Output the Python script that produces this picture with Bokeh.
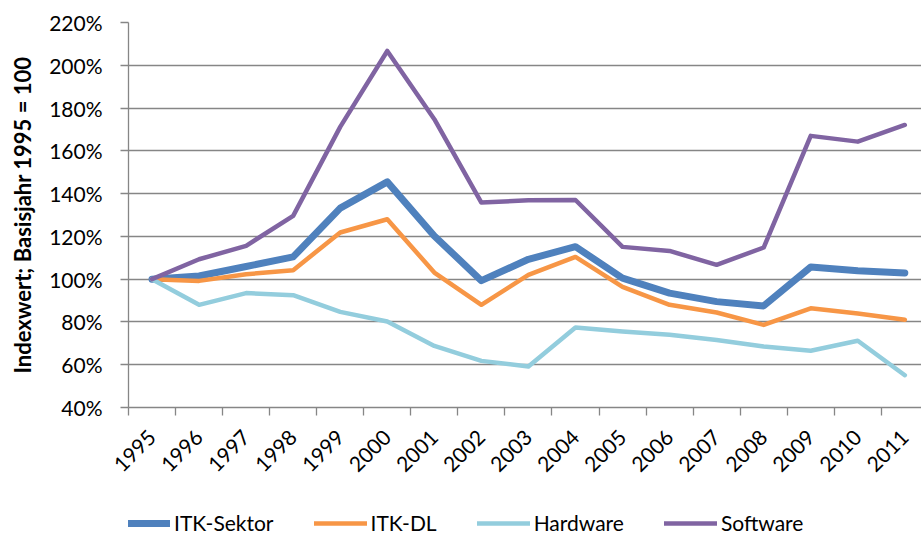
import math
from bokeh.plotting import figure
from bokeh.layouts import column
from bokeh.models import Range1d, FixedTicker, Legend, LegendItem
from bokeh.embed import file_html
from bokeh.resources import INLINE

years = ["1995", "1996", "1997", "1998", "1999", "2000", "2001", "2002", "2003",
         "2004", "2005", "2006", "2007", "2008", "2009", "2010", "2011"]
itk_sektor = [100, 101.5, 105.9, 110.4, 133.2, 145.5, 120.2, 99.3, 109.3,
              115.2, 100.5, 93.5, 89.5, 87.5, 105.7, 103.9, 102.9]
itk_dl = [100, 99.2, 102.3, 104.2, 121.8, 128.0, 103.1, 88.0, 102.0,
          110.4, 96.4, 88.0, 84.4, 78.6, 86.4, 83.9, 81.0]
hardware = [100, 88.0, 93.5, 92.5, 84.7, 80.2, 68.8, 61.8, 59.2,
            77.4, 75.5, 74.0, 71.6, 68.5, 66.5, 71.2, 55.1]
software = [100, 109.3, 115.6, 129.6, 171.2, 206.7, 174.8, 135.8, 136.9,
            137.0, 115.1, 113.2, 106.7, 114.8, 167.0, 164.3, 172.1]
y_ticks = [40, 60, 80, 100, 120, 140, 160, 180, 200, 220]
y_labels = ["40%", "60%", "80%", "100%", "120%", "140%", "160%", "180%", "200%", "220%"]

series = [
    ("ITK-Sektor", itk_sektor, "#4F81BD", 7),
    ("ITK-DL", itk_dl, "#F79646", 4.5),
    ("Hardware", hardware, "#93CDDD", 4.5),
    ("Software", software, "#8064A2", 4.5),
]

FONT = "Lato"
GRID = "#868686"

W = 921
H_MAIN, H_LEG = 485, 50
left, top, bottom = 128, 22, 78
frame_w = W - left
cat_px = 47.05
xs = [i + 0.5 for i in range(len(years))]

p = figure(width=W, height=H_MAIN, output_backend="svg", toolbar_location=None,
           x_range=Range1d(0, frame_w / cat_px), y_range=Range1d(40, 220),
           min_border_left=left, min_border_top=top, min_border_right=0,
           min_border_bottom=bottom)
p.outline_line_color = None
p.background_fill_color = "white"
p.border_fill_color = "white"

# x axis
xa = p.xaxis[0]
xa.ticker = FixedTicker(ticks=xs, minor_ticks=list(range(len(years) + 1)))
xa.major_label_overrides = {x: y for x, y in zip(xs, years)}
xa.major_tick_line_color = None
xa.major_tick_out = 8
xa.major_tick_in = 0
xa.minor_tick_out = 8
xa.minor_tick_in = 0
xa.minor_tick_line_color = GRID
xa.minor_tick_line_width = 1.3
xa.axis_line_color = GRID
xa.axis_line_width = 1.3
xa.major_label_orientation = math.pi / 4
xa.major_label_standoff = 18
xa.major_label_text_font = FONT
xa.major_label_text_font_size = "21px"
xa.major_label_text_color = "black"

# y axis
ya = p.yaxis[0]
ya.ticker = FixedTicker(ticks=y_ticks, minor_ticks=[])
ya.major_label_overrides = {t: l for t, l in zip(y_ticks, y_labels)}
ya.major_tick_out = 8
ya.major_tick_in = 0
ya.major_tick_line_color = GRID
ya.major_tick_line_width = 1.3
ya.axis_line_color = GRID
ya.axis_line_width = 1.3
ya.major_label_standoff = 18
ya.major_label_text_font = FONT
ya.major_label_text_font_size = "21px"
ya.major_label_text_color = "black"
ya.axis_label = "Indexwert; Basisjahr 1995 = 100"
ya.axis_label_text_font = FONT
ya.axis_label_text_font_style = "bold"
ya.axis_label_text_font_size = "22px"
ya.axis_label_text_color = "black"
ya.axis_label_standoff = 10

p.xgrid.visible = False
p.ygrid.ticker = FixedTicker(ticks=y_ticks)
p.ygrid.grid_line_color = GRID
p.ygrid.grid_line_width = 1.3

for name, vals, color, lw in series:
    p.line(xs, vals, line_color=color, line_width=lw,
           line_join="round", line_cap="round")

# legend strip below the chart: same series as key renderers, kept out of view
pl = figure(width=W, height=H_LEG, output_backend="svg", toolbar_location=None,
            x_range=Range1d(0, 1), y_range=Range1d(0, 1),
            min_border_left=0, min_border_right=0, min_border_top=0,
            min_border_bottom=0)
pl.axis.visible = False
pl.grid.visible = False
pl.outline_line_color = None
pl.background_fill_color = "white"
pl.border_fill_color = "white"
items = []
for name, vals, color, lw in series:
    r = pl.line(xs, vals, line_color=color, line_width=lw, line_cap="round")
    items.append(LegendItem(label=name, renderers=[r]))

legend = Legend(items=items, orientation="horizontal",
                location=(-11, 0), glyph_width=53, glyph_height=20,
                label_standoff=4, spacing=40, padding=0, margin=0,
                border_line_color=None, background_fill_alpha=0,
                label_text_font=FONT, label_text_font_size="21px",
                label_text_color="black")
pl.add_layout(legend, "center")

layout = column(p, pl, spacing=0)
open("out.html", "w").write(file_html(layout, INLINE))
